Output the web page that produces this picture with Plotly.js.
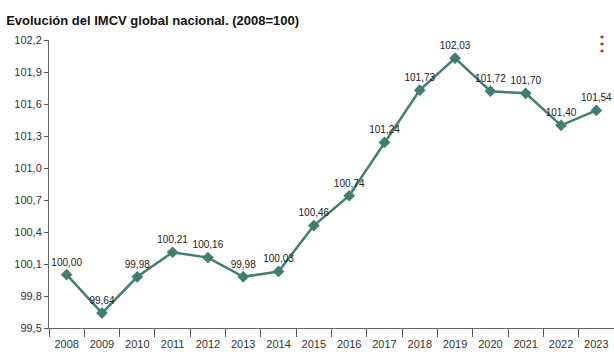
<!DOCTYPE html>
<html>
<head>
<meta charset="utf-8">
<script src="https://cdn.plot.ly/plotly-3.0.1.min.js"></script>
<style>html,body{margin:0;padding:0;background:#fff}#chart{width:614px;height:360px}</style>
</head>
<body>
<div id="chart"></div>
<script>
const years = ["2008","2009","2010","2011","2012","2013","2014","2015","2016","2017","2018","2019","2020","2021","2022","2023"];
const imcv = [100.00, 99.64, 99.98, 100.21, 100.16, 99.98, 100.03, 100.46, 100.74, 101.24, 101.73, 102.03, 101.72, 101.70, 101.40, 101.54];
const yTicks = [99.5, 99.8, 100.1, 100.4, 100.7, 101.0, 101.3, 101.6, 101.9, 102.2];
const titleText = "Evolución del IMCV global nacional. (2008=100)";

const labels = imcv.map(v => v.toFixed(2).replace('.', ','));
const tickText = yTicks.map(v => v.toFixed(1).replace('.', ','));

const trace = {
  x: years,
  y: imcv,
  type: "scatter",
  mode: "lines+markers+text",
  text: labels,
  textposition: "top center",
  textfont: {family: "Liberation Sans, Arial, sans-serif", size: 10, color: "#222"},
  line: {color: "#3f7f6f", width: 2.5},
  marker: {symbol: "diamond", size: 9, color: "#3f7f6f"},
  hoverinfo: "x+y",
  cliponaxis: false
};

const layout = {
  width: 614, height: 360,
  margin: {l: 49, r: 0, t: 40, b: 32},
  paper_bgcolor: "#fff", plot_bgcolor: "#fff",
  showlegend: false,
  separators: ",.",
  font: {family: "Liberation Sans, Arial, sans-serif", size: 11, color: "#333"},
  title: {
    text: "<b>" + titleText + "</b>",
    x: 0.01, xanchor: "left", y: 0.943, yanchor: "middle",
    font: {size: 13, color: "#111", family: "Liberation Sans, Arial, sans-serif"}
  },
  xaxis: {
    type: "category",
    range: [-0.5, 15.5],
    tickson: "boundaries",
    ticks: "outside", ticklen: 8, tickcolor: "#555", tickwidth: 1,
    ticklabelstandoff: 6,
    showline: true, linecolor: "#666", linewidth: 1,
    showgrid: false, zeroline: false,
    tickfont: {size: 11, color: "#333"}
  },
  yaxis: {
    range: [99.5, 102.2],
    tickvals: yTicks, ticktext: tickText,
    ticks: "outside", ticklen: 4, tickcolor: "#555",
    showline: true, linecolor: "#666", linewidth: 1,
    showgrid: false, zeroline: false,
    tickfont: {size: 11, color: "#333"}
  },
  annotations: [{
    text: "<b>⋮</b>", xref: "paper", yref: "paper", x: 1.0, y: 0.99,
    xanchor: "right", yanchor: "middle", showarrow: false,
    font: {size: 20, color: "#b03030"}
  }]
};

Plotly.newPlot("chart", [trace], layout, {displayModeBar: false, responsive: false});
</script>
</body>
</html>
